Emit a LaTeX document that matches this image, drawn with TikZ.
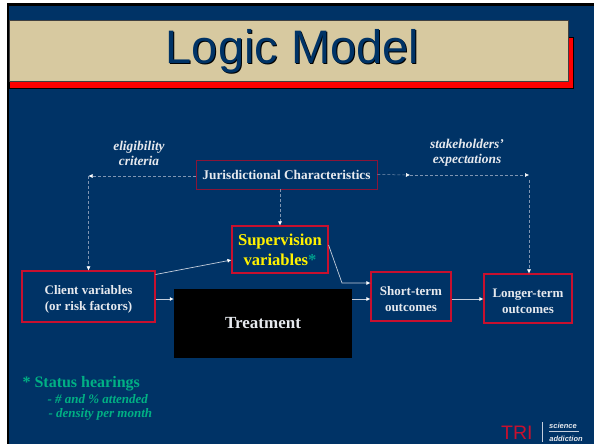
\documentclass[tikz,border=0pt]{standalone}
\usepackage{fontspec}
\setmainfont{Liberation Serif}
\newfontfamily\arialfont{Liberation Sans}
\usetikzlibrary{arrows.meta, calc}

\definecolor{navy}{HTML}{003366}
\definecolor{beige}{HTML}{D7C9A0}
\definecolor{boxred}{HTML}{C8102E}
\definecolor{darkred}{HTML}{8A1538}
\definecolor{softwhite}{HTML}{E6E9EE}
\definecolor{dashblue}{HTML}{7F95B2}
\definecolor{statusgreen}{HTML}{00B084}
\definecolor{startail}{HTML}{009E8E}
\definecolor{lineblue}{HTML}{C4CEDC}

\newcommand{\lowstrut}{\rule{0pt}{15pt}}

\tikzset{
  varbox/.style={draw=boxred, line width=1.1pt, inner sep=0pt, align=center, text=softwhite, font=\bfseries\fontsize{13}{16}\selectfont},
  noteline/.style={text=softwhite, align=center, font=\bfseries\itshape\fontsize{13.4}{15}\selectfont},
  dashflow/.style={dashblue, densely dashed, line width=0.5pt, -{Latex[length=4pt,width=4pt,color=white]}},
  solidflow/.style={lineblue, line width=0.7pt, -{Latex[length=4pt,width=4pt,color=white]}}
}

\begin{document}
\begin{tikzpicture}[x=1pt,y=-1pt]
\useasboundingbox (0,0) rectangle (594,444);
\fill[white] (0,0) rectangle (594,444);
\fill[black] (6.5,3) rectangle (594,444);
\fill[navy] (9,6) rectangle (594,444);

% title bar
\fill[red,draw=black,line width=0.4pt] (9,37) rectangle (573,88);
\fill[beige,draw=black!75,line width=0.5pt] (9,20) rectangle (568,81.5);
\node[text=black,font=\arialfont\fontsize{47}{47}\selectfont] at (293.5,52) {Logic Model};
\node[text=navy,font=\arialfont\fontsize{47}{47}\selectfont] (title) at (292.5,51) {Logic Model};

% boxes
\node[varbox, draw=darkred, line width=0.8pt, minimum width=181pt, minimum height=29pt, font=\bfseries\fontsize{13.3}{15}\selectfont] (jur) at (286.5,174.5) {Jurisdictional Characteristics};
\node[varbox, minimum width=96pt, minimum height=47pt, text=yellow, font=\bfseries\fontsize{16.6}{20}\selectfont] (super) at (280,249.5) {Supervision\\variables\textcolor{startail}{*}};
\node[varbox, minimum width=133pt, minimum height=51pt] (client) at (88.5,296.5) {\lowstrut Client variables\\(or risk factors)};
\node[fill=black, inner sep=0pt, minimum width=178pt, minimum height=69pt, text=softwhite, font=\bfseries\fontsize{17}{20}\selectfont] (treat) at (263,323.5) {Treatment};
\node[varbox, minimum width=80pt, minimum height=49pt] (short) at (411,296.5) {\lowstrut Short-term\\outcomes};
\node[varbox, minimum width=88pt, minimum height=49pt] (long) at (528,298.5) {\lowstrut Longer-term\\outcomes};

% side notes
\node[noteline] (elig) at (139,153) {eligibility\\criteria};
\node[noteline] (stake) at (467,153) {stakeholders'\\expectations};

% corners of the dashed routes
\coordinate (leftturn) at (88.5,176);
\coordinate (midright) at (410,175);
\coordinate (rightturn) at (529,175);
\coordinate (flowy) at (0,299);

\draw[dashflow] ([yshift=-1.5pt]jur.west) -- (leftturn);
\draw[dashflow] (leftturn) -- (client.north -| leftturn);
\draw[dashflow] (jur.south -| super.north) -- (super.north);
\draw[dashflow] (jur.east) -- (midright);
\draw[dashflow] (midright) -- (rightturn);
\draw[dashflow] ([yshift=-5pt]rightturn) -- (long.north -| rightturn);

\draw[solidflow] ([yshift=22pt]client.east) -- ([yshift=-10.5pt]super.west);
\draw[solidflow] (client.east |- flowy) -- (treat.west |- flowy);
\coordinate (bend) at (342,283);
\draw[solidflow] ([yshift=4.5pt]super.east) -- (bend) -- (bend -| short.west);
\draw[solidflow] (treat.east |- flowy) -- (short.west |- flowy);
\draw[solidflow] (short.east |- flowy) -- (long.west |- flowy);

% status hearings
\node[anchor=base west, text=statusgreen, font=\bfseries\fontsize{16}{16}\selectfont] (status) at (19,387) {* Status hearings};
\node[anchor=base west, text=statusgreen, font=\bfseries\itshape\fontsize{13}{14}\selectfont] (attend) at (44,403) {- \# and \% attended};
\node[anchor=base west, text=statusgreen, font=\bfseries\itshape\fontsize{13}{14}\selectfont] (density) at (45,417) {- density per month};

% logo
\node[anchor=base west, inner sep=0pt, text=boxred, font=\arialfont\fontsize{19.5}{20}\selectfont] (tri) at (501,439) {TRI};
\draw[lineblue,line width=0.7pt] (542.5,422) -- (542.5,442);
\node[anchor=base, inner sep=0pt, text=softwhite, font=\arialfont\bfseries\itshape\fontsize{7.5}{8}\selectfont] (science) at (563,428) {science};
\node[anchor=base, inner sep=0pt, text=softwhite, font=\arialfont\bfseries\itshape\fontsize{7.5}{8}\selectfont] (addiction) at (566,441) {addiction};
\draw[lineblue,line width=0.9pt] (549,431) -- (579,431);
\end{tikzpicture}
\end{document}
